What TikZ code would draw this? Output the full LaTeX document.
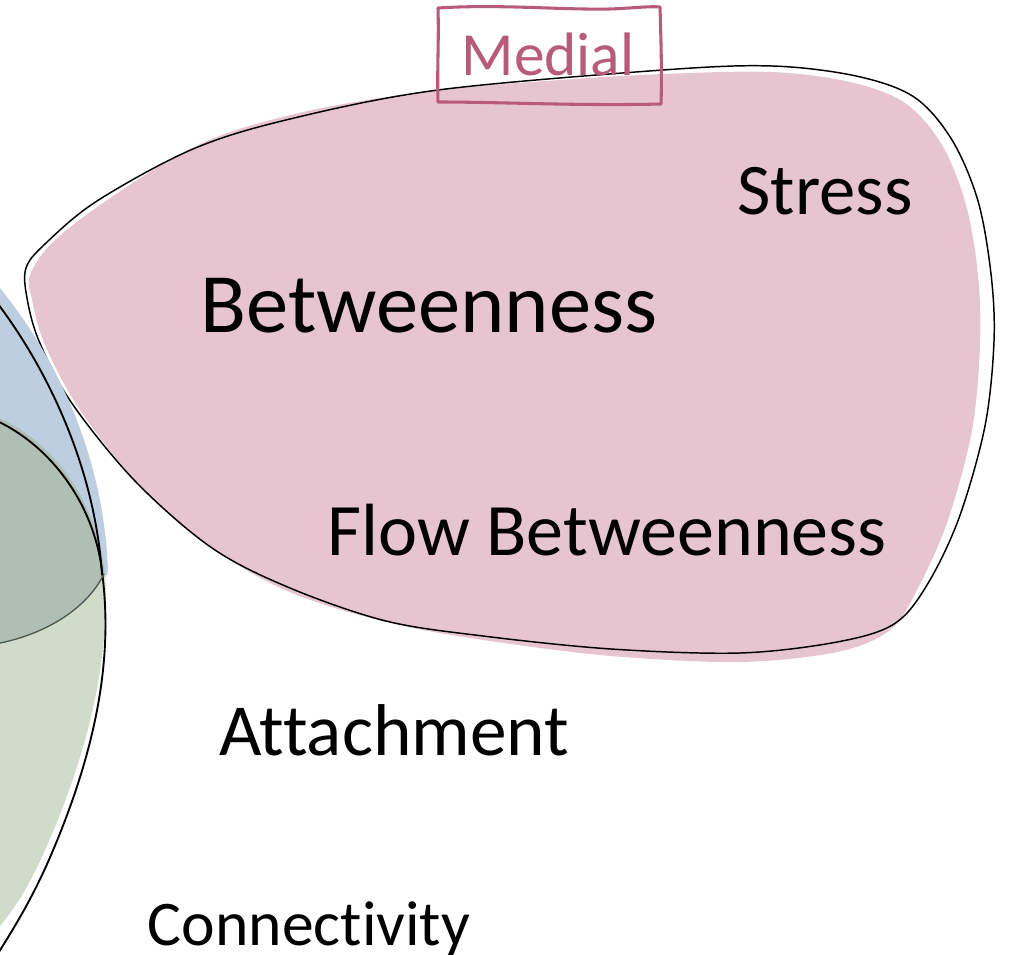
\documentclass[tikz,border=0pt]{standalone}
\usepackage{fontspec}
\setmainfont{Carlito}[Ligatures={NoCommon,NoRare,NoContextual}]
\definecolor{medialfill}{HTML}{E6C5D0}
\definecolor{medialrose}{HTML}{B85A7A}
\definecolor{radialblue}{HTML}{BDCEE0}
\definecolor{overlapgrey}{HTML}{AFBFB3}
\definecolor{sage}{HTML}{D1DBC9}
\definecolor{seam}{HTML}{4D5A4F}
\tikzset{
  outline/.style={draw=black, line width=1.1pt, line join=round},
  label/.style={anchor=base, inner sep=0pt, text=black},
  tagbox/.style={draw=medialrose, line width=2.3pt, line join=round}
}
\begin{document}
\begin{tikzpicture}[x=0.75pt, y=-0.75pt]
\useasboundingbox (0,0) rectangle (1009,955);

% pink region: soft fill with a hand-drawn outline on top
\fill[medialfill] plot[smooth cycle, tension=0.55] coordinates {
  (30,275) (52,243) (100,205) (170,160) (230,132) (322,108) (438,90)
  (560,80) (663,74) (772,72) (850,82) (905,103) (942,145) (966,205)
  (978,275) (980,345) (972,430) (948,520) (918,588) (890,630) (837,652)
  (740,662) (611,656) (483,640) (386,622) (292,593) (218,552) (142,488)
  (80,410) (45,345) (32,300)};
\draw[outline] plot[smooth cycle, tension=0.55] coordinates {
  (26,268) (45,244) (97,201) (193,149) (290,119) (438,90) (663,70)
  (772,66) (856,76) (914,97) (952,140) (978,201) (991,274) (994,341)
  (985,426) (959,518) (927,585) (894,624) (837,642) (740,653) (611,649)
  (483,636) (386,621) (290,588) (212,548) (135,481) (71,402) (39,341)
  (27,298)};

% overlapping sets at the left edge
\begin{scope}
  \clip (0,0) rectangle (1009,955);
  \fill[radialblue] (-5,282) .. controls (52,350) and (104,450) .. (108,572)
    .. controls (90,612) and (40,636) .. (-5,645) -- cycle;
  \fill[overlapgrey] (-5,416) .. controls (52,440) and (97,500) .. (105,574)
    .. controls (86,612) and (40,636) .. (-5,644) -- cycle;
  \fill[sage] (105,574) .. controls (110,650) and (92,745) .. (45,850)
    .. controls (30,885) and (14,910) .. (-5,932) -- (-5,644)
    .. controls (40,636) and (86,612) .. (105,574) -- cycle;
  \draw[outline, line width=1.4pt] (-5,300) .. controls (45,365) and (95,465) .. (102,575);
  \draw[outline, line width=1.4pt] (-5,420) .. controls (50,445) and (97,505) .. (103,580)
    .. controls (112,660) and (97,750) .. (48,862)
    .. controls (32,898) and (16,925) .. (-3,955);
  \draw[seam, line width=1pt] (104,574) .. controls (85,612) and (40,636) .. (-5,644);
\end{scope}

% labels
\node[label, font=\fontsize{63.4}{70}\selectfont] (betw) at (429,332) {Betweenness};
\node[label, font=\fontsize{54.5}{60}\selectfont] (stress) at (825,215) {Stress};
\node[label, font=\fontsize{55.5}{60}\selectfont] (flow) at (607,555) {Flow Betweenness};
\node[label, font=\fontsize{55}{60}\selectfont] (attach) at (394,755) {Attachment};
\node[label, font=\fontsize{47.7}{54}\selectfont] (conn) at (309,945) {Connectivity};

% set title in a hand-drawn frame
\node[label, text=medialrose, font=\fontsize{46}{52}\selectfont] (medial) at (548,76) {Medial};
\draw[tagbox] (438,8) .. controls (500,4) and (560,10) .. (610,9)
  .. controls (635,8) and (650,6) .. (660,7)
  .. controls (661,40) and (662,75) .. (661,104)
  .. controls (580,106) and (500,102) .. (438,102)
  .. controls (437,70) and (439,40) .. (438,8) -- cycle;
\end{tikzpicture}
\end{document}
